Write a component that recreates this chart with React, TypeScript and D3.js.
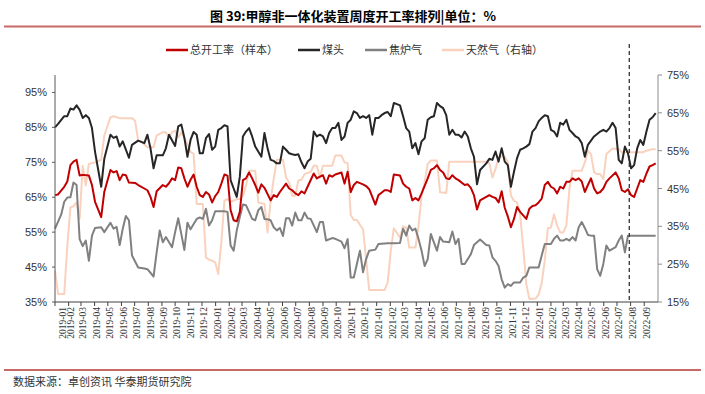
import React from "react";
import * as d3 from "d3";

const START_DATE = "2019-01-01";
const END_DATE = "2022-09-30";
const DIVIDER_DATE = "2022-07-29";

const leftTicks = [35, 45, 55, 65, 75, 85, 95];
const rightTicks = [15, 25, 35, 45, 55, 65, 75];

// [week index since START_DATE, value %]
const totalRate: [number, number][] = [
  [0,65.6],[1,65.8],[3,68],[4,69.5],[5,74.2],[6,75.2],[7,75.7],[8,71.2],[9,71.4],[11,71.2],[12,68.5],[13,63.7],[15,59.3],[16,66.5],[18,72.8],[19,72.1],[20,72.5],[21,69.9],[22,71.5],[23,71.3],[24,69.2],[26,69.1],[27,68.5],[29,67.5],[30,67],[31,65.1],[32,62.2],[33,66.7],[35,68.5],[36,68],[37,69],[38,70.4],[39,69.9],[40,73.5],[41,73.3],[42,70.4],[43,68],[44,70],[45,71.5],[46,68],[47,65.6],
  [48,65.1],[49,66.5],[50,65.8],[51,63.5],[52,65.3],[53,66.5],[54,68.9],[55,71.5],[56,71.2],[57,61.3],[58,58.4],[59,58.1],[60,60.8],[61,69.9],[62,70.4],[63,72.1],[64,70.4],[65,68.5],[66,66.3],[67,68.7],[68,67.7],[70,64.1],[71,65.6],[72,65.1],[73,66.5],[75,68.9],[76,67.5],[77,67],[78,66.1],[79,65.6],[80,66.7],[81,66.1],[82,68],[84,71.8],[85,70.4],[86,70.9],[87,71.3],[88,68.9],[89,71.3],[90,70.9],[91,71.5],[93,72.1],[94,68.9],[95,72.3],
  [96,66.5],[97,68.5],[98,69.4],[100,68.7],[101,68.2],[102,67.3],[103,65.1],[104,62.9],[105,65.6],[106,66.3],[107,67],[108,67],[109,66.5],[110,71.5],[112,71.2],[113,68.9],[114,68],[115,67.5],[116,64.1],[117,64.8],[118,64.1],[119,66.1],[121,70.4],[122,72.8],[123,73.3],[124,74.2],[125,72.8],[126,72.1],[127,70.4],[128,70.2],[129,71.3],[130,70.4],[131,69.9],[133,68.5],[134,68.7],[135,67.7],[136,65.6],[137,61.5],[138,64.1],[140,65.1],[141,65.6],[142,65.1],[143,64.8],[144,63.5],[145,66.7],
  [146,62],[147,59.5],[148,56.4],[149,58.8],[150,62.2],[151,60.8],[152,59.8],[153,58.8],[154,61.7],[155,62.5],[156,62.7],[157,63.5],[158,64.6],[159,68.5],[160,69.4],[161,68],[162,67.5],[163,66.1],[164,68],[165,67.5],[166,69.4],[167,69.4],[168,70.4],[169,69.9],[170,70.4],[171,69.5],[172,66.5],[173,68.5],[174,70.4],[175,67.5],[176,66.1],[177,66.5],[178,67.5],[179,69.4],[180,70.4],[182,72.1],[183,70.4],[184,67],[185,66.5],[186,67.3],[187,65.6],[188,65.1],[189,67.5],[190,69.9],[191,69.4],[192,71.8],[193,73.8],[194,74.2],[195,74.7]
];

const coalRate: [number, number][] = [
  [0,85],[1,86],[3,88.2],[4,88.2],[5,90.4],[6,90.1],[7,91.3],[8,90],[9,87.7],[10,88.5],[11,87.7],[12,84.8],[13,78],[15,68],[16,76],[18,82.9],[19,82],[20,82.4],[21,79.5],[22,81],[24,76.3],[25,80],[27,81.2],[29,80.5],[30,82.9],[31,79],[32,73.3],[33,77],[35,77],[36,79],[37,82.9],[39,79.7],[40,85.3],[41,85.8],[42,82],[43,76.6],[44,81.4],[45,83.7],[46,82.9],[47,77.6],[48,77.6],
  [49,81.9],[50,83.1],[51,78.6],[52,79.5],[53,84.3],[54,84.8],[55,85.6],[56,85.3],[57,69.9],[58,67.5],[59,65.1],[60,70.9],[61,82.4],[62,83.8],[63,84.8],[64,82.4],[65,79.5],[67,76.6],[68,83.4],[69,79],[70,75.7],[71,75.4],[72,74.7],[73,74.7],[74,79.5],[75,78.6],[76,77.6],[77,77.3],[78,77.1],[79,77.3],[80,75],[81,73.3],[82,75.2],[83,76],[84,83.8],[85,82.4],[86,82.9],[87,82.4],[88,80.5],[89,83.4],[90,84.8],[91,84.8],[92,86.3],[93,81.4],[94,82.4],[95,86.3],[96,87.2],[97,89.6],
  [98,89.1],[99,87.7],[100,88.2],[101,87.7],[102,88.5],[103,82.9],[104,87.7],[105,87.7],[106,88.5],[107,89.1],[108,89.4],[109,88.2],[110,92],[112,91.3],[113,88.2],[114,84.8],[115,83.8],[116,79],[117,80.5],[118,77.3],[119,81],[120,81.9],[121,87.2],[122,87.9],[123,88.2],[124,92],[125,91.1],[126,90.5],[127,88.5],[128,82.9],[129,84.3],[130,82.9],[131,82.9],[132,82.1],[133,83.8],[134,82.4],[135,79],[136,76.6],[137,68.7],[138,72.8],[140,74.7],[141,76],[142,75.7],[143,78.1],[144,75.2],
  [145,79],[146,75.2],[147,74.2],[148,68],[149,72.3],[150,76.2],[151,78.6],[152,79],[153,79.5],[154,80.2],[155,83.8],[156,84.8],[157,86.7],[158,87.7],[159,88.5],[160,88.2],[161,84.3],[162,83.8],[163,82.4],[164,86.3],[165,85.8],[166,87.2],[167,84.3],[168,83.4],[169,82.4],[170,81.9],[171,80.5],[172,76.6],[173,80],[174,81.2],[175,82.4],[177,83.8],[178,84.3],[179,83.8],[180,84.8],[181,86.3],[182,84.8],[183,75.7],[184,74.7],[185,79.5],[186,77.6],[187,73.3],[188,74.2],[189,79],[190,81.4],[191,80],[192,83.8],[193,87.2],[194,87.9],[195,89.1]
];

const cokeGasRate: [number, number][] = [
  [0,56],[1,58],[2,60],[3,63.7],[4,64.9],[5,65],[6,69.2],[7,68.5],[8,53],[9,51],[10,52.6],[11,46.8],[12,54],[13,56.2],[15,56.4],[16,55],[18,57.7],[19,56],[20,56.5],[21,51.3],[22,56],[23,59.6],[24,58.4],[25,48.3],[27,44.9],[29,44.6],[30,44.4],[32,42.3],[33,49.2],[34,55.5],[35,52.1],[36,53.6],[38,50.7],[39,55],[40,59],[41,54.5],[42,49.9],[43,57.7],[44,55.8],[46,58.8],[47,59.2],
  [48,58.8],[49,61.7],[50,56.9],[51,58.4],[52,61],[53,61],[54,61],[55,61],[56,60.8],[57,51.2],[58,49.7],[59,55.5],[60,59.3],[61,62.9],[62,62.7],[63,60.8],[64,58.8],[65,58.4],[66,61.3],[67,62.2],[68,58.8],[69,58.7],[70,58.4],[71,56.4],[72,55.5],[73,56.2],[74,53.9],[75,59],[76,59],[77,56.9],[78,60.6],[79,58.4],[80,58.4],[81,60.6],[82,59],[83,58.8],[85,55],[86,57.9],[87,57.9],[88,52.6],[90,53.3],[91,53.1],[93,52.3],[94,50.4],[95,53],
  [96,42],[97,42],[98,45.9],[99,49.7],[100,43.5],[101,47.3],[102,49.7],[104,50],[105,51.6],[108,51.8],[110,51.8],[112,51.9],[113,56],[114,54],[115,56.9],[116,55.5],[117,56],[118,53.1],[119,49.7],[120,45.3],[121,47.3],[122,54.5],[123,52.1],[124,49.7],[125,53.6],[126,52.3],[128,52.1],[129,55.2],[130,51.6],[131,53.1],[132,45.9],[133,45.9],[135,48.7],[136,51.3],[138,52.9],[139,52.1],[140,51.3],[141,51.2],[142,47.8],[143,46.8],[144,45.3],
  [145,41.5],[146,39.1],[147,40.1],[148,39.6],[149,40.6],[151,40.6],[152,42],[153,42.5],[154,44.9],[155,44.9],[157,44.9],[158,48.3],[159,51.6],[161,51.6],[162,53.1],[163,54],[164,52.6],[165,52.6],[166,53.1],[167,52.6],[168,53.6],[169,52.6],[170,56.4],[171,57.9],[172,56.2],[173,54.2],[174,54],[175,54],[176,44.4],[177,42.5],[178,45.9],[179,51.2],[180,49.7],[181,50.2],[182,50.7],[183,52.6],[184,54],[185,49.2],[186,54],[195,54]
];

// right axis
const natGasRate: [number, number][] = [
  [0,23.3],[1,17.1],[3,17.1],[4,29.9],[5,40],[6,40.3],[7,41.3],[8,37],[9,51],[10,45.8],[11,51.5],[13,51.9],[15,52.6],[16,59],[18,63.8],[19,64.1],[21,63.6],[25,63.6],[26,62.9],[27,57.6],[28,57.4],[30,55.9],[32,55.9],[33,59],[35,59.9],[36,59.9],[37,58.5],[38,59.9],[39,60.3],[40,58.5],[41,59.9],[43,56.8],[44,54.6],[45,54.2],[46,40.9],[48,40.9],
  [49,26.8],[50,26.2],[51,25.9],[52,25.5],[53,22.4],[54,30.8],[55,41.8],[56,42.2],[57,41.5],[58,41.8],[59,42.2],[60,42.2],[61,43.1],[62,45.7],[63,49.7],[65,49.7],[66,41.3],[68,40.9],[69,33.4],[70,41.8],[71,47.5],[72,52.6],[74,52.6],[75,47.9],[76,46.6],[77,43.1],[78,43.1],[79,47.1],[80,47.3],[81,48.8],[82,49.1],[83,49.4],[84,51],[85,51],[86,47.9],[87,51],[90,51],[91,53.7],[93,53.7],[94,51.9],[95,51.7],
  [96,38],[97,36.7],[98,36.7],[99,35.4],[100,34.3],[101,26.3],[102,18.2],[107,18.2],[108,20.2],[109,28.5],[110,34.5],[112,32],[113,35],[114,34.7],[115,29.4],[117,29.4],[118,35],[119,43],[120,46.6],[121,51.5],[122,52.4],[124,52.4],[125,44],[127,43.8],[128,52.1],[140,52.1],[141,51.7],[142,47.9],[143,50.1],[144,53.2],
  [145,53.5],[146,53.4],[147,52],[148,43.1],[149,41.8],[150,41.3],[151,38],[152,29.4],[153,19.7],[154,15.8],[156,15.9],[157,17],[158,20],[159,26],[160,34.5],[161,34.7],[162,38.2],[163,35.2],[164,33.4],[165,33.4],[166,35.2],[167,44.9],[168,49.7],[171,49.7],[172,51.9],[173,55],[174,54.1],[175,49.3],[176,48.8],[177,48.8],[178,47.5],[179,54.1],[181,55.6],[183,55.4],[184,54.6],[191,54.6],[192,55],[194,55.4],[195,55.4]
];

const legendItems = [
  { label: "总开工率（样本）", color: "#C00000" },
  { label: "煤头", color: "#262626" },
  { label: "焦炉气", color: "#808080" },
  { label: "天然气（右轴）", color: "#F9D2BE" },
];

const W = 705, H = 394;
const X0 = 55, X1 = 657, YT = 75, YB = 302;

export default function App() {
  const parse = d3.utcParse("%Y-%m-%d");
  const start = parse(START_DATE)!;
  const end = parse(END_DATE)!;
  const x = d3.scaleUtc().domain([start, end]).range([X0, X1]);
  const yL = d3.scaleLinear().domain([35, 100]).range([YB, YT]);
  const yR = d3.scaleLinear().domain([15, 75]).range([YB, YT]);
  const wd = (w: number) => d3.utcDay.offset(start, Math.round(w * 7));

  const lineL = d3.line<[number, number]>().x(d => x(wd(d[0]))).y(d => yL(d[1]));
  const lineR = d3.line<[number, number]>().x(d => x(wd(d[0]))).y(d => yR(d[1]));

  const months = d3.utcMonth.range(start, d3.utcDay.offset(end, 1));
  const fmt = d3.utcFormat("%Y-%m");
  const divX = x(parse(DIVIDER_DATE)!);

  const legendX = [166, 298, 365, 442];

  return (
    <svg width={W} height={H} style={{ position: "absolute", left: 0, top: 0, background: "#fff" }}
      fontFamily="'Noto Sans CJK SC', sans-serif">
      <text x={353} y={21} textAnchor="middle" fontSize={13} fontWeight={700} fill="#000">
        图 39:甲醇非一体化装置周度开工率排列|单位：%
      </text>
      <line x1={4} x2={701} y1={26.5} y2={26.5} stroke="#C0504D" strokeWidth={2} opacity={0.85} />

      {legendItems.map((it, i) => (
        <g key={i} transform={`translate(${legendX[i]},50)`}>
          <line x1={0} x2={22} y1={0} y2={0} stroke={it.color} strokeWidth={2.5} />
          <text x={24} y={4} fontSize={11} fill="#333">{it.label}</text>
        </g>
      ))}

      {/* lines */}
      <path d={lineR(natGasRate)!} fill="none" stroke="#F9D2BE" strokeWidth={2} strokeLinejoin="round" />
      <path d={lineL(cokeGasRate)!} fill="none" stroke="#808080" strokeWidth={2} strokeLinejoin="round" />
      <path d={lineL(coalRate)!} fill="none" stroke="#262626" strokeWidth={2} strokeLinejoin="round" />
      <path d={lineL(totalRate)!} fill="none" stroke="#C00000" strokeWidth={2} strokeLinejoin="round" />

      {/* divider */}
      <line x1={divX} x2={divX} y1={44} y2={YB} stroke="#333" strokeWidth={1.3} strokeDasharray="4,3" />

      {/* left axis */}
      <line x1={X0} x2={X0} y1={YT} y2={YB} stroke="#595959" strokeWidth={1} />
      {leftTicks.map(t => (
        <g key={t}>
          <line x1={X0 - 3} x2={X0} y1={yL(t)} y2={yL(t)} stroke="#595959" />
          <text x={47} y={yL(t) + 4} textAnchor="end" fontSize={11} fill="#333"
            fontFamily="'Liberation Sans', Arial, sans-serif">{t}%</text>
        </g>
      ))}

      {/* right axis */}
      <line x1={X1 + 1} x2={X1 + 1} y1={YT} y2={YB} stroke="#8c8c8c" strokeWidth={1} />
      {rightTicks.map(t => (
        <g key={t}>
          <line x1={X1 + 1} x2={X1 + 5} y1={yR(t)} y2={yR(t)} stroke="#8c8c8c" />
          <text x={667} y={yR(t) + 4} textAnchor="start" fontSize={11} fill="#333"
            fontFamily="'Liberation Sans', Arial, sans-serif">{t}%</text>
        </g>
      ))}

      {/* x axis */}
      <line x1={X0} x2={X1 + 1} y1={YB} y2={YB} stroke="#404040" strokeWidth={1} />
      {months.map((m, i) => {
        const mx = x(m);
        const cx = i === 0 ? X0 + 7.5 : mx + 2;
        return (
          <g key={i}>
            <line x1={mx} x2={mx} y1={YB} y2={YB + 4} stroke="#404040" />
            <text transform={`translate(${cx + 3.3},${YB + 5}) rotate(-90)`} textAnchor="end"
              fontSize={9.5} fill="#333" fontFamily="'Liberation Serif', 'Times New Roman', serif">
              {fmt(m)}
            </text>
          </g>
        );
      })}

      <line x1={4} x2={701} y1={370} y2={370} stroke="#C0504D" strokeWidth={2} opacity={0.85} />
      <text x={13} y={386} fontSize={11} fill="#333">数据来源：卓创资讯  华泰期货研究院</text>
    </svg>
  );
}
